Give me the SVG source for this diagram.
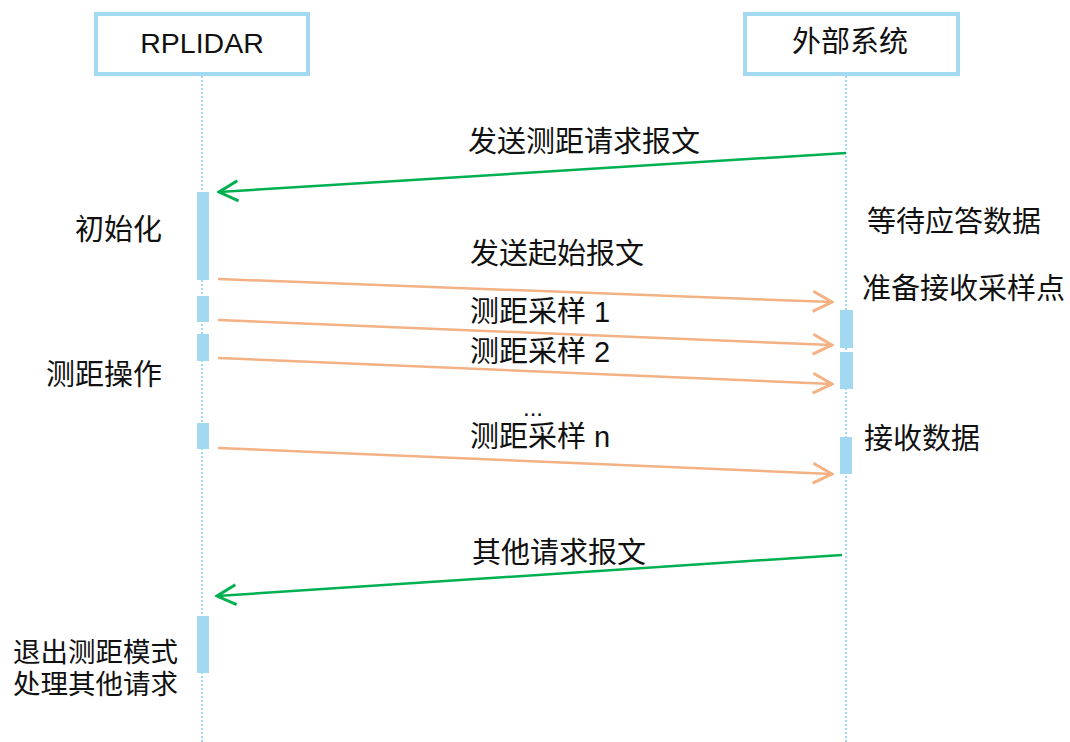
<svg xmlns="http://www.w3.org/2000/svg" width="1070" height="742" viewBox="0 0 1070 742">
<style>
.box{fill:#fff;stroke:#A4D9F2;stroke-width:4}
.life{stroke:#7FCDF0;stroke-width:1.5;stroke-dasharray:2 2;fill:none}
.act{fill:#A3D8F2}
.t{font-family:"Liberation Sans","Noto Sans CJK SC",sans-serif;font-size:29px;fill:#111}
.s{font-size:27.5px}
.g{stroke:#00B050;stroke-width:2.5;fill:none}
.o{stroke:#F4B183;stroke-width:2.5;fill:none}
</style>
<defs>
<marker id="ag" markerWidth="22" markerHeight="24" refX="20" refY="12" orient="auto" markerUnits="userSpaceOnUse">
<path d="M1,2 L20,12 L1,22" fill="none" stroke="#00B050" stroke-width="3"/>
</marker>
<marker id="ao" markerWidth="22" markerHeight="24" refX="20" refY="12" orient="auto" markerUnits="userSpaceOnUse">
<path d="M1,2 L20,12 L1,22" fill="none" stroke="#F4B183" stroke-width="3"/>
</marker>
</defs>
<rect width="1070" height="742" fill="#fff"/>
<g id="lifelines">
<line class="life" x1="202" y1="76" x2="202" y2="742"/>
<line class="life" x1="846" y1="76" x2="846" y2="742"/>
</g>
<g id="rplidar">
<rect class="box" x="96" y="14" width="212" height="60"/>
<text class="t" x="202" y="53" text-anchor="middle" style="font-size:28.5px">RPLIDAR</text>
</g>
<g id="external">
<rect class="box" x="745" y="14" width="213" height="60"/>
<text class="t" x="850" y="52" text-anchor="middle">外部系统</text>
</g>
<g id="activations">
<rect class="act" x="197" y="192" width="12" height="88"/>
<rect class="act" x="197" y="296" width="12" height="26"/>
<rect class="act" x="197" y="334" width="12" height="27"/>
<rect class="act" x="197" y="423" width="12" height="26"/>
<rect class="act" x="197" y="616" width="12" height="57"/>
<rect class="act" x="840" y="310" width="13" height="38"/>
<rect class="act" x="840" y="352" width="13" height="37"/>
<rect class="act" x="840" y="437" width="12" height="37"/>
</g>
<g id="connectors">
<line class="g" x1="846" y1="153" x2="219" y2="192" marker-end="url(#ag)"/>
<line class="o" x1="218" y1="279" x2="832" y2="302" marker-end="url(#ao)"/>
<line class="o" x1="218" y1="320" x2="832" y2="345" marker-end="url(#ao)"/>
<line class="o" x1="218" y1="358" x2="832" y2="384" marker-end="url(#ao)"/>
<line class="o" x1="218" y1="448" x2="832" y2="474" marker-end="url(#ao)"/>
<line class="g" x1="842" y1="555" x2="217" y2="596" marker-end="url(#ag)"/>
</g>
<g id="labels">
<text class="t" x="468" y="152">发送测距请求报文</text>
<text class="t" x="75" y="240">初始化</text>
<text class="t" x="867" y="232">等待应答数据</text>
<text class="t" x="470" y="264">发送起始报文</text>
<text class="t" x="862" y="299">准备接收采样点</text>
<text class="t" x="470" y="322">测距采样 1</text>
<text class="t" x="470" y="362">测距采样 2</text>
<text class="t" x="46" y="385">测距操作</text>
<text class="t" x="533" y="416" text-anchor="middle" style="font-size:24px">...</text>
<text class="t" x="470" y="447">测距采样 n</text>
<text class="t" x="864" y="449">接收数据</text>
<text class="t" x="472" y="563">其他请求报文</text>
<text class="t s" x="13" y="662">退出测距模式</text>
<text class="t s" x="13" y="694">处理其他请求</text>
</g>
</svg>
